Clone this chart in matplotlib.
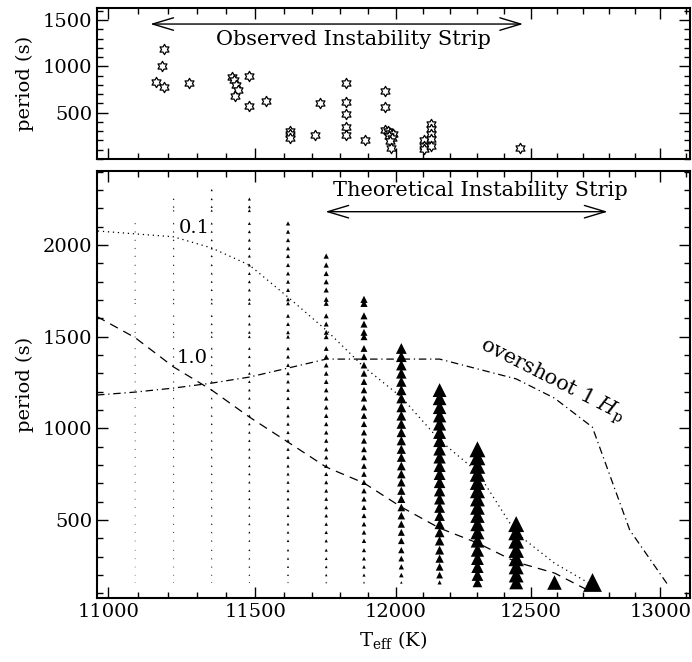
import matplotlib
matplotlib.use("Agg")
import matplotlib.pyplot as plt
from matplotlib.ticker import FixedLocator, NullFormatter, FixedFormatter
from matplotlib.path import Path
import numpy as np

plt.rcParams['font.family'] = ['DejaVu Serif']
plt.rcParams['mathtext.fontset'] = 'dejavuserif'

# observed ZZ Ceti stars
obs_teff = [11189, 11180, 11160, 11189, 11271, 11419, 11427, 11434, 11439, 11429,
            11480, 11480, 11539, 11621, 11621, 11621, 11711, 11729, 11822, 11822,
            11822, 11822, 11822, 11890, 11959, 11959, 11959, 11970, 11980, 11990,
            11975, 11985, 11980, 11982, 12102, 12102, 12102, 12130, 12130, 12130,
            12130, 12130, 12461]
obs_period = [1184, 1003, 834, 780, 823, 888, 852, 798, 744, 682,
              898, 574, 622, 304, 269, 222, 255, 600, 823, 614,
              482, 348, 255, 204, 736, 557, 312, 301, 280, 269,
              247, 226, 193, 118, 204, 139, 104, 377, 323, 269,
              215, 142, 114]

# model sequence: unstable l=1 modes
model_teff = [11090, 11220, 11350, 11480, 11615, 11750, 11885,
              12020, 12160, 12300, 12445, 12590, 12735]
model_pmax = [2173, 2251, 2300, 2251, 2118, 1940, 1704,
              1455, 1209, 886, 478, 160, 160]
size_top = [1.0, 1.2, 1.6, 2.2, 3.0, 3.8, 5.2, 7.8, 10.0, 11.5, 11.5, 10.5, 13.5]
size_bottom = [0.6, 0.7, 0.8, 0.9, 1.0, 1.2, 1.4, 1.8, 3.0, 7.0, 10.0, 10.5, 13.5]
mode_periods = [160, 200, 245, 290, 336, 387, 433, 478, 524, 569, 615, 660,
                706, 751, 795, 842, 886, 933, 978, 1024, 1069, 1115, 1164,
                1209, 1255, 1300, 1345, 1391, 1436, 1500, 1524, 1569, 1614,
                1682, 1704, 1755, 1800, 1845, 1891, 1940, 1982, 2027, 2073,
                2118, 2188, 2209, 2251, 2300]

# red edges for convective efficiency / overshoot
edge01_teff = [10900, 11220, 11350, 11480, 11615, 11750, 11885, 12020,
               12160, 12300, 12445, 12590, 12735]
edge01_p = [2085, 2045, 1984, 1891, 1716, 1536, 1335, 1171, 936, 762, 429, 265, 145]
edge10_teff = [10963, 11090, 11220, 11350, 11480, 11615, 11750, 11885,
               12020, 12160, 12300, 12445, 12590, 12735]
edge10_p = [1610, 1495, 1335, 1209, 1062, 925, 789, 702, 571, 456, 375, 271, 211, 105]
over_teff = [10963, 11090, 11220, 11350, 11480, 11615, 11750, 12160,
             12445, 12590, 12735, 12880, 13030]
over_p = [1182, 1198, 1220, 1247, 1280, 1329, 1378, 1378, 1270, 1165, 1007, 445, 145]

xmajor = [11000, 11500, 12000, 12500, 13000]
xminor = list(range(11000, 13200, 100))

# hexagram outline for the observed stars
ang = np.linspace(np.pi / 2, np.pi / 2 + 2 * np.pi, 13)
rad = np.array([1.0, 0.577] * 6 + [1.0])
star = Path(np.column_stack([rad * np.cos(ang), rad * np.sin(ang)]), closed=True)

fig = plt.figure(figsize=(6.92, 6.62), dpi=100)
ax1 = fig.add_axes([0.1402, 0.7598, 0.857, 0.2281])
ax2 = fig.add_axes([0.1402, 0.0967, 0.857, 0.645])

for ax in (ax1, ax2):
    ax.set_xscale('log')
    ax.set_xlim(10963, 13117)
    ax.xaxis.set_major_locator(FixedLocator(xmajor))
    ax.xaxis.set_minor_locator(FixedLocator(xminor))
    ax.xaxis.set_minor_formatter(NullFormatter())
    ax.yaxis.set_minor_locator(FixedLocator(list(range(0, 2500, 100))))
    ax.tick_params(which='both', direction='in', top=True, right=True,
                   labelsize=14, width=1)
    ax.tick_params(which='major', length=8)
    ax.tick_params(which='minor', length=4)
    for sp in ax.spines.values():
        sp.set_linewidth(1.5)
    ax.set_ylabel('period (s)', fontsize=14, labelpad=6)

# top panel
ax1.scatter(obs_teff, obs_period, marker=star, s=55, facecolors='white',
            edgecolors='black', linewidths=0.9, zorder=3)
ax1.set_ylim(0, 1630)
ax1.set_yticks([500, 1000, 1500])
ax1.xaxis.set_major_formatter(NullFormatter())
ax1.annotate('', xy=(12471, 1457), xytext=(11141, 1457),
             arrowprops=dict(arrowstyle='<->,head_length=1.5,head_width=0.45',
                             lw=1, shrinkA=0, shrinkB=0, mutation_scale=10))
ax1.text(11847, 1290, 'Observed Instability Strip', fontsize=15,
         ha='center', va='center')

# bottom panel
for t, pmax, st, sb in zip(model_teff, model_pmax, size_top, size_bottom):
    ps = np.array([p for p in mode_periods if p <= pmax])
    if len(ps) > 1:
        frac = (ps - ps.min()) / (ps.max() - ps.min())
    else:
        frac = np.ones(len(ps))
    ms = sb + (st - sb) * frac ** 0.4
    ax2.scatter([t] * len(ps), ps, marker='^', s=ms ** 2, c='black',
                linewidths=0, zorder=2)

ax2.plot(edge01_teff, edge01_p, color='black', lw=0.9, ls=(0, (1, 3)), zorder=3)
ax2.plot(edge10_teff, edge10_p, color='black', lw=0.9, ls=(0, (7, 5)), zorder=3)
ax2.plot(over_teff, over_p, color='black', lw=0.9, ls=(0, (6, 3, 1, 3)), zorder=3)

ax2.text(11291, 2093, '0.1', fontsize=14, ha='center', va='center')
ax2.text(11282, 1384, '1.0', fontsize=14, ha='center', va='center')
ax2.text(12580, 1258, r'overshoot 1 $H_{\rm p}$', fontsize=15, rotation=-27,
         ha='center', va='center')

ax2.annotate('', xy=(12794, 2182), xytext=(11747, 2182),
             arrowprops=dict(arrowstyle='<->,head_length=1.5,head_width=0.45',
                             lw=1, shrinkA=0, shrinkB=0, mutation_scale=10))
ax2.text(12311, 2295, 'Theoretical Instability Strip', fontsize=15,
         ha='center', va='center')

ax2.set_ylim(75, 2404)
ax2.set_yticks([500, 1000, 1500, 2000])
ax2.xaxis.set_major_formatter(FixedFormatter([str(v) for v in xmajor]))
ax2.set_xlabel(r'T$_{\rm eff}$ (K)', fontsize=14, labelpad=6)

fig.savefig('out.png', dpi=100)
